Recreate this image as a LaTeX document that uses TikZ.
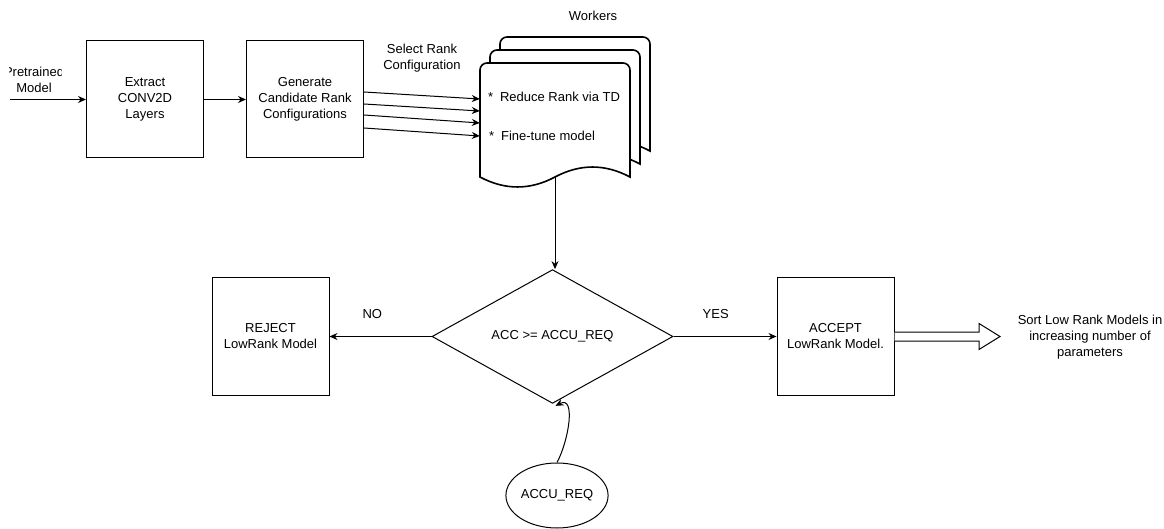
\documentclass[tikz,border=0pt]{standalone}
\usepackage{fontspec}
\setmainfont{Liberation Sans}
\usetikzlibrary{shapes.geometric, arrows.meta, positioning, calc, backgrounds}
\definecolor{cBg}{HTML}{FFFFFF}
\definecolor{cLine}{HTML}{000000}
\definecolor{cText}{HTML}{000000}

% one worker sheet, origin at its top left corner
\tikzset{
    workerdoc/.pic={
        \draw[doc_line] (0,114) [rounded corners=7pt] -- (0,0) -- (150,0) [sharp corners] -- (150,114)
            .. controls (125,100.7) and (100,100.7) .. (75,114)
            .. controls (50,127.3) and (25,127.3) .. (0,114) -- cycle;
    }
}

\begin{document}
\begin{tikzpicture}[
    x=1pt, y=-1pt,
    font=\fontsize{13}{16}\selectfont\color{cText},
    >={Stealth[length=8pt,width=7pt]},
    background rectangle/.style={fill=cBg},
    show background rectangle,
    inner frame sep=0pt,
    % Core item styles
    box/.style={rectangle, draw=cLine, line width=1pt, minimum width=117pt, minimum height=117pt, align=center, inner sep=2pt},
    decision/.style={diamond, draw=cLine, line width=1pt, minimum width=241pt, minimum height=67pt, inner sep=0pt},
    req_ellipse/.style={ellipse, draw=cLine, line width=1pt, minimum width=101pt, minimum height=65pt, inner sep=0pt},
    doc_line/.style={draw=cLine, line width=1.6pt, fill=cBg},
    plain_label/.style={align=center, inner sep=0pt},
    % Arrow styles
    arrow/.style={->, line width=1pt, color=cLine},
    block_arrow/.style={draw=cLine, line width=1pt, fill=cBg}
]
\useasboundingbox (0,0) rectangle (1164,529);

% --- INPUT ---
\begin{scope}
    \clip (9,55) rectangle (61,100);
    \node[plain_label] (pre) at (34,80) {Pretrained\\Model};
\end{scope}
\coordinate (pre_in) at (10,99.5);

\node[box] (extract) at (145,99.5) {Extract\\CONV2D\\Layers};
\node[box, right=42pt of extract] (gen) {Generate\\Candidate Rank\\Configurations};

\draw[arrow] (pre_in) -- (extract.west);
\draw[arrow] (extract.east) -- (gen.west);

% --- WORKERS ---
\foreach \dx/\dy in {20/37, 10/50, 0/63} {
    \pic at (480+\dx,\dy) {workerdoc};
}
\node[minimum width=150pt, minimum height=114pt, inner sep=0pt] (doc) at (555,120) {};
\node[plain_label, anchor=west] (td) at ($(doc.west)+(8,-23)$) {*\hspace{7pt}Reduce Rank via TD};
\node[plain_label, anchor=west] (ft) at ($(doc.west)+(9,16)$) {*\hspace{7pt}Fine-tune model};
\node[plain_label] (workers) at (593,16) {Workers};
\node[plain_label] (select) at (422,58.5) {Select Rank\\Configuration};

\foreach \a/\b in {-7.5/-21, 4.5/-9, 15.5/3, 28.5/16} {
    \draw[arrow] ($(gen.east)+(0,\a)$) -- ($(doc.west)+(0,\b)$);
}

% --- DECISION ---
\node[decision] (dec) at (552.5,336.5) {ACC >= ACCU\_REQ};
\node[box, left=102pt of dec] (reject) {REJECT\\LowRank Model};
\node[box, right=103pt of dec] (accept) {ACCEPT\\LowRank Model.};
\node[req_ellipse] (req) at (557,495.5) {ACCU\_REQ};

\draw[arrow] (doc.south) -- (doc.south |- dec.north);
\draw[arrow] (dec.west) -- node[plain_label, pos=0.58, above, yshift=17pt] {NO} (reject.east);
\draw[arrow] (dec.east) -- node[plain_label, pos=0.41, above, yshift=17pt] {YES} (accept.west);
\draw[arrow] (req.north) .. controls (569,440) and (576,395) .. ($(dec.south)+(3,2)$);

% --- OUTPUT ---
\coordinate (blk_tip) at (1000,336.5);
\draw[block_arrow] ($(accept.east)+(0,-4.5)$) -- ($(blk_tip)+(-21,-4.5)$) -- ($(blk_tip)+(-21,-13)$) -- (blk_tip)
    -- ($(blk_tip)+(-21,13)$) -- ($(blk_tip)+(-21,4.5)$) -- ($(accept.east)+(0,4.5)$);
\node[plain_label] (sort) at (1090,337) {Sort Low Rank Models in\\increasing number of\\parameters};

\end{tikzpicture}
\end{document}
